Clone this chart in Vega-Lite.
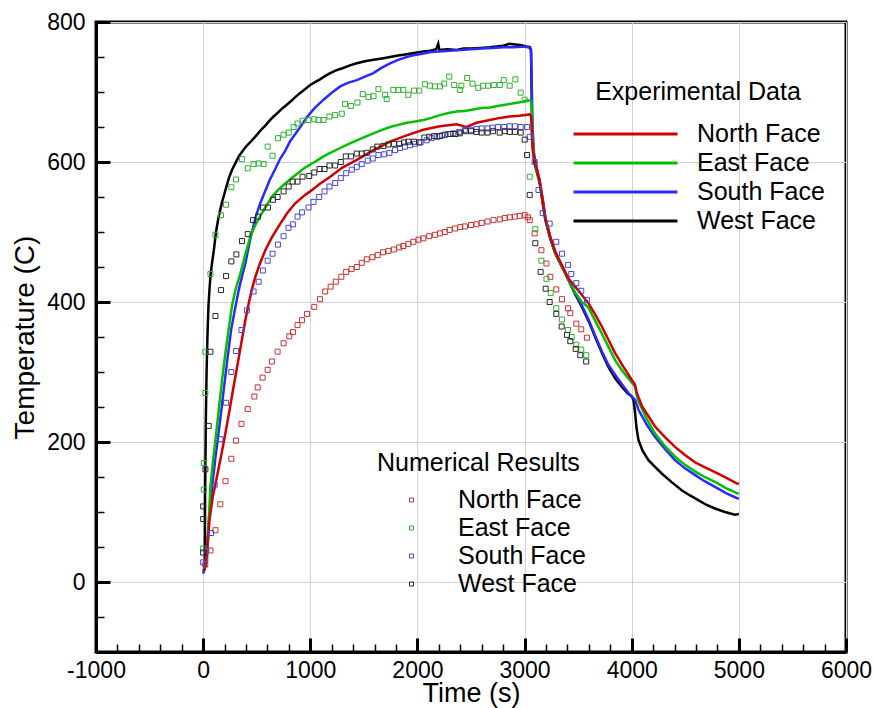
{
"$schema": "https://vega.github.io/schema/vega-lite/v6.json",
"width": 750, "height": 630,
"autosize": {"type": "none"},
"padding": {"left": 96, "top": 22, "right": 29, "bottom": 56},
"background": "white",
"config": {"view": {"stroke": "black", "strokeWidth": 3}, "font": "Liberation Sans"},
"datasets": {
"exp": [
{"face":"West Face","t":0,"temp":15},{"face":"West Face","t":10,"temp":17},{"face":"West Face","t":15,"temp":20},{"face":"West Face","t":18,"temp":120},{"face":"West Face","t":22,"temp":180},{"face":"West Face","t":25,"temp":230},{"face":"West Face","t":32,"temp":300},{"face":"West Face","t":40,"temp":350},{"face":"West Face","t":50,"temp":395},{"face":"West Face","t":60,"temp":420},{"face":"West Face","t":70,"temp":440},{"face":"West Face","t":85,"temp":458},{"face":"West Face","t":100,"temp":474},{"face":"West Face","t":120,"temp":500},{"face":"West Face","t":145,"temp":522},{"face":"West Face","t":175,"temp":542},{"face":"West Face","t":208,"temp":560},{"face":"West Face","t":240,"temp":577},{"face":"West Face","t":270,"temp":589},{"face":"West Face","t":300,"temp":598},{"face":"West Face","t":332,"temp":608},{"face":"West Face","t":365,"temp":615},{"face":"West Face","t":400,"temp":622},{"face":"West Face","t":450,"temp":630},{"face":"West Face","t":503,"temp":639},{"face":"West Face","t":540,"temp":646},{"face":"West Face","t":580,"temp":652},{"face":"West Face","t":620,"temp":659},{"face":"West Face","t":658,"temp":665},{"face":"West Face","t":700,"temp":671},{"face":"West Face","t":735,"temp":676},{"face":"West Face","t":775,"temp":681},{"face":"West Face","t":813,"temp":686},{"face":"West Face","t":855,"temp":692},{"face":"West Face","t":900,"temp":698},{"face":"West Face","t":950,"temp":704},{"face":"West Face","t":999,"temp":710},{"face":"West Face","t":1045,"temp":714},{"face":"West Face","t":1090,"temp":718},{"face":"West Face","t":1140,"temp":723},{"face":"West Face","t":1186,"temp":727},{"face":"West Face","t":1240,"temp":731},{"face":"West Face","t":1300,"temp":734},{"face":"West Face","t":1370,"temp":738},{"face":"West Face","t":1434,"temp":741},{"face":"West Face","t":1510,"temp":744},{"face":"West Face","t":1590,"temp":746},{"face":"West Face","t":1670,"temp":748},{"face":"West Face","t":1744,"temp":750},{"face":"West Face","t":1820,"temp":752},{"face":"West Face","t":1900,"temp":754},{"face":"West Face","t":1980,"temp":756},{"face":"West Face","t":2055,"temp":758},{"face":"West Face","t":2120,"temp":759},{"face":"West Face","t":2175,"temp":761},{"face":"West Face","t":2194,"temp":769},{"face":"West Face","t":2205,"temp":760},{"face":"West Face","t":2280,"temp":761},{"face":"West Face","t":2365,"temp":760},{"face":"West Face","t":2430,"temp":762},{"face":"West Face","t":2500,"temp":762},{"face":"West Face","t":2590,"temp":763},{"face":"West Face","t":2675,"temp":764},{"face":"West Face","t":2740,"temp":765},{"face":"West Face","t":2800,"temp":766},{"face":"West Face","t":2861,"temp":769},{"face":"West Face","t":2910,"temp":768},{"face":"West Face","t":2960,"temp":767},{"face":"West Face","t":3017,"temp":765},{"face":"West Face","t":3050,"temp":764},{"face":"West Face","t":3060,"temp":760},{"face":"West Face","t":3066,"temp":700},{"face":"West Face","t":3072,"temp":630},{"face":"West Face","t":3090,"temp":600},{"face":"West Face","t":3115,"temp":585},{"face":"West Face","t":3141,"temp":570},{"face":"West Face","t":3170,"temp":540},{"face":"West Face","t":3194,"temp":517},{"face":"West Face","t":3240,"temp":490},{"face":"West Face","t":3287,"temp":469},{"face":"West Face","t":3350,"temp":450},{"face":"West Face","t":3411,"temp":431},{"face":"West Face","t":3470,"temp":412},{"face":"West Face","t":3535,"temp":393},{"face":"West Face","t":3600,"temp":372},{"face":"West Face","t":3659,"temp":350},{"face":"West Face","t":3720,"temp":328},{"face":"West Face","t":3783,"temp":307},{"face":"West Face","t":3850,"temp":290},{"face":"West Face","t":3907,"temp":279},{"face":"West Face","t":3960,"temp":270},{"face":"West Face","t":4000,"temp":265},{"face":"West Face","t":4016,"temp":260},{"face":"West Face","t":4025,"temp":250},{"face":"West Face","t":4032,"temp":241},{"face":"West Face","t":4045,"temp":220},{"face":"West Face","t":4063,"temp":203},{"face":"West Face","t":4100,"temp":188},{"face":"West Face","t":4156,"temp":174},{"face":"West Face","t":4220,"temp":164},{"face":"West Face","t":4280,"temp":155},{"face":"West Face","t":4370,"temp":143},{"face":"West Face","t":4466,"temp":131},{"face":"West Face","t":4540,"temp":124},{"face":"West Face","t":4621,"temp":117},{"face":"West Face","t":4700,"temp":110},{"face":"West Face","t":4777,"temp":105},{"face":"West Face","t":4870,"temp":100},{"face":"West Face","t":4963,"temp":96},{"face":"West Face","t":5000,"temp":97},
{"face":"South Face","t":0,"temp":12},{"face":"South Face","t":6,"temp":15},{"face":"South Face","t":20,"temp":30},{"face":"South Face","t":40,"temp":60},{"face":"South Face","t":60,"temp":100},{"face":"South Face","t":84,"temp":136},{"face":"South Face","t":115,"temp":178},{"face":"South Face","t":145,"temp":214},{"face":"South Face","t":175,"temp":252},{"face":"South Face","t":201,"temp":286},{"face":"South Face","t":230,"temp":323},{"face":"South Face","t":263,"temp":362},{"face":"South Face","t":300,"temp":392},{"face":"South Face","t":332,"temp":417},{"face":"South Face","t":365,"temp":438},{"face":"South Face","t":394,"temp":455},{"face":"South Face","t":440,"temp":490},{"face":"South Face","t":487,"temp":520},{"face":"South Face","t":530,"temp":540},{"face":"South Face","t":570,"temp":555},{"face":"South Face","t":620,"temp":574},{"face":"South Face","t":673,"temp":590},{"face":"South Face","t":720,"temp":605},{"face":"South Face","t":766,"temp":616},{"face":"South Face","t":813,"temp":630},{"face":"South Face","t":860,"temp":640},{"face":"South Face","t":906,"temp":650},{"face":"South Face","t":968,"temp":664},{"face":"South Face","t":1040,"temp":677},{"face":"South Face","t":1124,"temp":689},{"face":"South Face","t":1200,"temp":699},{"face":"South Face","t":1279,"temp":708},{"face":"South Face","t":1350,"temp":713},{"face":"South Face","t":1434,"temp":717},{"face":"South Face","t":1510,"temp":722},{"face":"South Face","t":1589,"temp":727},{"face":"South Face","t":1660,"temp":734},{"face":"South Face","t":1744,"temp":741},{"face":"South Face","t":1820,"temp":746},{"face":"South Face","t":1900,"temp":750},{"face":"South Face","t":1980,"temp":753},{"face":"South Face","t":2055,"temp":755},{"face":"South Face","t":2130,"temp":757},{"face":"South Face","t":2200,"temp":758},{"face":"South Face","t":2300,"temp":759},{"face":"South Face","t":2400,"temp":760},{"face":"South Face","t":2500,"temp":761},{"face":"South Face","t":2600,"temp":762},{"face":"South Face","t":2700,"temp":763},{"face":"South Face","t":2800,"temp":764},{"face":"South Face","t":2900,"temp":764},{"face":"South Face","t":3000,"temp":765},{"face":"South Face","t":3050,"temp":763},{"face":"South Face","t":3060,"temp":758},{"face":"South Face","t":3066,"temp":720},{"face":"South Face","t":3074,"temp":650},{"face":"South Face","t":3090,"temp":610},{"face":"South Face","t":3115,"temp":590},{"face":"South Face","t":3141,"temp":574},{"face":"South Face","t":3170,"temp":545},{"face":"South Face","t":3194,"temp":520},{"face":"South Face","t":3240,"temp":492},{"face":"South Face","t":3287,"temp":470},{"face":"South Face","t":3350,"temp":450},{"face":"South Face","t":3411,"temp":431},{"face":"South Face","t":3470,"temp":413},{"face":"South Face","t":3535,"temp":395},{"face":"South Face","t":3600,"temp":374},{"face":"South Face","t":3659,"temp":352},{"face":"South Face","t":3720,"temp":330},{"face":"South Face","t":3783,"temp":310},{"face":"South Face","t":3850,"temp":295},{"face":"South Face","t":3907,"temp":283},{"face":"South Face","t":3970,"temp":270},{"face":"South Face","t":4032,"temp":260},{"face":"South Face","t":4063,"temp":246},{"face":"South Face","t":4140,"temp":225},{"face":"South Face","t":4218,"temp":207},{"face":"South Face","t":4310,"temp":190},{"face":"South Face","t":4404,"temp":174},{"face":"South Face","t":4500,"temp":162},{"face":"South Face","t":4590,"temp":153},{"face":"South Face","t":4680,"temp":144},{"face":"South Face","t":4777,"temp":136},{"face":"South Face","t":4880,"temp":127},{"face":"South Face","t":4979,"temp":120},{"face":"South Face","t":5000,"temp":119},
{"face":"East Face","t":5,"temp":17},{"face":"East Face","t":20,"temp":22},{"face":"East Face","t":37,"temp":30},{"face":"East Face","t":50,"temp":80},{"face":"East Face","t":68,"temp":136},{"face":"East Face","t":90,"temp":170},{"face":"East Face","t":115,"temp":203},{"face":"East Face","t":145,"temp":245},{"face":"East Face","t":177,"temp":289},{"face":"East Face","t":210,"temp":330},{"face":"East Face","t":239,"temp":362},{"face":"East Face","t":270,"temp":395},{"face":"East Face","t":301,"temp":417},{"face":"East Face","t":348,"temp":441},{"face":"East Face","t":394,"temp":468},{"face":"East Face","t":441,"temp":494},{"face":"East Face","t":487,"temp":510},{"face":"East Face","t":530,"temp":522},{"face":"East Face","t":580,"temp":535},{"face":"East Face","t":640,"temp":550},{"face":"East Face","t":704,"temp":561},{"face":"East Face","t":780,"temp":571},{"face":"East Face","t":859,"temp":581},{"face":"East Face","t":952,"temp":592},{"face":"East Face","t":1040,"temp":600},{"face":"East Face","t":1124,"temp":608},{"face":"East Face","t":1200,"temp":614},{"face":"East Face","t":1280,"temp":620},{"face":"East Face","t":1360,"temp":626},{"face":"East Face","t":1434,"temp":631},{"face":"East Face","t":1510,"temp":636},{"face":"East Face","t":1590,"temp":641},{"face":"East Face","t":1670,"temp":646},{"face":"East Face","t":1744,"temp":650},{"face":"East Face","t":1820,"temp":653},{"face":"East Face","t":1900,"temp":656},{"face":"East Face","t":1980,"temp":658},{"face":"East Face","t":2055,"temp":660},{"face":"East Face","t":2130,"temp":663},{"face":"East Face","t":2210,"temp":667},{"face":"East Face","t":2290,"temp":670},{"face":"East Face","t":2365,"temp":672},{"face":"East Face","t":2440,"temp":673},{"face":"East Face","t":2520,"temp":675},{"face":"East Face","t":2600,"temp":677},{"face":"East Face","t":2675,"temp":678},{"face":"East Face","t":2750,"temp":680},{"face":"East Face","t":2830,"temp":682},{"face":"East Face","t":2900,"temp":684},{"face":"East Face","t":2986,"temp":686},{"face":"East Face","t":3030,"temp":688},{"face":"East Face","t":3060,"temp":687},{"face":"East Face","t":3066,"temp":680},{"face":"East Face","t":3072,"temp":640},{"face":"East Face","t":3090,"temp":605},{"face":"East Face","t":3115,"temp":588},{"face":"East Face","t":3141,"temp":572},{"face":"East Face","t":3170,"temp":545},{"face":"East Face","t":3194,"temp":520},{"face":"East Face","t":3240,"temp":492},{"face":"East Face","t":3287,"temp":470},{"face":"East Face","t":3350,"temp":450},{"face":"East Face","t":3411,"temp":432},{"face":"East Face","t":3470,"temp":414},{"face":"East Face","t":3535,"temp":400},{"face":"East Face","t":3597,"temp":392},{"face":"East Face","t":3660,"temp":373},{"face":"East Face","t":3721,"temp":355},{"face":"East Face","t":3783,"temp":336},{"face":"East Face","t":3845,"temp":317},{"face":"East Face","t":3920,"temp":300},{"face":"East Face","t":4000,"temp":285},{"face":"East Face","t":4032,"temp":279},{"face":"East Face","t":4045,"temp":268},{"face":"East Face","t":4063,"temp":258},{"face":"East Face","t":4140,"temp":233},{"face":"East Face","t":4218,"temp":212},{"face":"East Face","t":4310,"temp":194},{"face":"East Face","t":4404,"temp":179},{"face":"East Face","t":4500,"temp":167},{"face":"East Face","t":4590,"temp":158},{"face":"East Face","t":4680,"temp":150},{"face":"East Face","t":4777,"temp":143},{"face":"East Face","t":4880,"temp":134},{"face":"East Face","t":4979,"temp":127},{"face":"East Face","t":5000,"temp":126},
{"face":"North Face","t":5,"temp":17},{"face":"North Face","t":21,"temp":22},{"face":"North Face","t":40,"temp":50},{"face":"North Face","t":60,"temp":90},{"face":"North Face","t":90,"temp":122},{"face":"North Face","t":115,"temp":140},{"face":"North Face","t":145,"temp":163},{"face":"North Face","t":190,"temp":198},{"face":"North Face","t":239,"temp":239},{"face":"North Face","t":285,"temp":280},{"face":"North Face","t":332,"temp":320},{"face":"North Face","t":366,"temp":350},{"face":"North Face","t":394,"temp":374},{"face":"North Face","t":425,"temp":398},{"face":"North Face","t":455,"temp":418},{"face":"North Face","t":487,"temp":436},{"face":"North Face","t":530,"temp":455},{"face":"North Face","t":580,"temp":474},{"face":"North Face","t":640,"temp":492},{"face":"North Face","t":704,"temp":508},{"face":"North Face","t":780,"temp":526},{"face":"North Face","t":859,"temp":541},{"face":"North Face","t":952,"temp":553},{"face":"North Face","t":999,"temp":558},{"face":"North Face","t":1090,"temp":569},{"face":"North Face","t":1186,"temp":579},{"face":"North Face","t":1300,"temp":592},{"face":"North Face","t":1434,"temp":603},{"face":"North Face","t":1590,"temp":617},{"face":"North Face","t":1744,"temp":629},{"face":"North Face","t":1900,"temp":638},{"face":"North Face","t":2055,"temp":646},{"face":"North Face","t":2210,"temp":651},{"face":"North Face","t":2365,"temp":654},{"face":"North Face","t":2410,"temp":652},{"face":"North Face","t":2458,"temp":650},{"face":"North Face","t":2550,"temp":656},{"face":"North Face","t":2675,"temp":660},{"face":"North Face","t":2770,"temp":663},{"face":"North Face","t":2861,"temp":665},{"face":"North Face","t":2950,"temp":666},{"face":"North Face","t":3048,"temp":668},{"face":"North Face","t":3062,"temp":665},{"face":"North Face","t":3068,"temp":640},{"face":"North Face","t":3078,"temp":615},{"face":"North Face","t":3100,"temp":600},{"face":"North Face","t":3141,"temp":572},{"face":"North Face","t":3170,"temp":545},{"face":"North Face","t":3194,"temp":520},{"face":"North Face","t":3240,"temp":493},{"face":"North Face","t":3287,"temp":472},{"face":"North Face","t":3350,"temp":452},{"face":"North Face","t":3411,"temp":433},{"face":"North Face","t":3473,"temp":422},{"face":"North Face","t":3535,"temp":410},{"face":"North Face","t":3597,"temp":398},{"face":"North Face","t":3660,"temp":382},{"face":"North Face","t":3721,"temp":365},{"face":"North Face","t":3783,"temp":346},{"face":"North Face","t":3845,"temp":327},{"face":"North Face","t":3920,"temp":308},{"face":"North Face","t":4000,"temp":289},{"face":"North Face","t":4030,"temp":282},{"face":"North Face","t":4047,"temp":270},{"face":"North Face","t":4100,"temp":250},{"face":"North Face","t":4160,"temp":236},{"face":"North Face","t":4218,"temp":222},{"face":"North Face","t":4310,"temp":207},{"face":"North Face","t":4404,"temp":193},{"face":"North Face","t":4500,"temp":181},{"face":"North Face","t":4590,"temp":171},{"face":"North Face","t":4680,"temp":164},{"face":"North Face","t":4777,"temp":157},{"face":"North Face","t":4880,"temp":149},{"face":"North Face","t":4979,"temp":141},{"face":"North Face","t":5000,"temp":140}
],
"num": [
{"face":"North Face","t":20,"temp":25},{"face":"North Face","t":68,"temp":45},{"face":"North Face","t":115,"temp":74},{"face":"North Face","t":161,"temp":111},{"face":"North Face","t":208,"temp":144},{"face":"North Face","t":263,"temp":176},{"face":"North Face","t":307,"temp":202},{"face":"North Face","t":357,"temp":226},{"face":"North Face","t":416,"temp":247},{"face":"North Face","t":478,"temp":265},{"face":"North Face","t":509,"temp":278},{"face":"North Face","t":555,"temp":292},{"face":"North Face","t":602,"temp":303},{"face":"North Face","t":642,"temp":315},{"face":"North Face","t":695,"temp":329},{"face":"North Face","t":751,"temp":341},{"face":"North Face","t":804,"temp":351},{"face":"North Face","t":838,"temp":357},{"face":"North Face","t":881,"temp":367},{"face":"North Face","t":922,"temp":374},{"face":"North Face","t":970,"temp":383},{"face":"North Face","t":1037,"temp":393},{"face":"North Face","t":1090,"temp":404},{"face":"North Face","t":1139,"temp":415},{"face":"North Face","t":1190,"temp":422},{"face":"North Face","t":1238,"temp":429},{"face":"North Face","t":1290,"temp":436},{"face":"North Face","t":1335,"temp":443},{"face":"North Face","t":1385,"temp":447},{"face":"North Face","t":1434,"temp":450},{"face":"North Face","t":1480,"temp":456},{"face":"North Face","t":1527,"temp":461},{"face":"North Face","t":1580,"temp":464},{"face":"North Face","t":1629,"temp":467},{"face":"North Face","t":1680,"temp":471},{"face":"North Face","t":1730,"temp":473},{"face":"North Face","t":1780,"temp":475},{"face":"North Face","t":1830,"temp":478},{"face":"North Face","t":1868,"temp":480},{"face":"North Face","t":1915,"temp":483},{"face":"North Face","t":1962,"temp":486},{"face":"North Face","t":2010,"temp":489},{"face":"North Face","t":2055,"temp":491},{"face":"North Face","t":2110,"temp":494},{"face":"North Face","t":2163,"temp":496},{"face":"North Face","t":2210,"temp":498},{"face":"North Face","t":2256,"temp":500},{"face":"North Face","t":2300,"temp":503},{"face":"North Face","t":2350,"temp":505},{"face":"North Face","t":2400,"temp":507},{"face":"North Face","t":2443,"temp":508},{"face":"North Face","t":2500,"temp":510},{"face":"North Face","t":2551,"temp":511},{"face":"North Face","t":2600,"temp":513},{"face":"North Face","t":2654,"temp":515},{"face":"North Face","t":2710,"temp":517},{"face":"North Face","t":2768,"temp":518},{"face":"North Face","t":2815,"temp":520},{"face":"North Face","t":2861,"temp":521},{"face":"North Face","t":2910,"temp":522},{"face":"North Face","t":2955,"temp":523},{"face":"North Face","t":3001,"temp":524},{"face":"North Face","t":3030,"temp":521},{"face":"North Face","t":3048,"temp":517},{"face":"North Face","t":3094,"temp":498},{"face":"North Face","t":3157,"temp":474},{"face":"North Face","t":3204,"temp":455},{"face":"North Face","t":3241,"temp":436},{"face":"North Face","t":3296,"temp":418},{"face":"North Face","t":3349,"temp":404},{"face":"North Face","t":3405,"temp":391},{"face":"North Face","t":3427,"temp":384},{"face":"North Face","t":3483,"temp":369},{"face":"North Face","t":3529,"temp":361},{"face":"North Face","t":3582,"temp":349},
{"face":"East Face","t":0,"temp":48},{"face":"East Face","t":6,"temp":132},{"face":"East Face","t":6,"temp":170},{"face":"East Face","t":21,"temp":270},{"face":"East Face","t":21,"temp":329},{"face":"East Face","t":68,"temp":440},{"face":"East Face","t":115,"temp":496},{"face":"East Face","t":167,"temp":524},{"face":"East Face","t":214,"temp":539},{"face":"East Face","t":263,"temp":564},{"face":"East Face","t":307,"temp":575},{"face":"East Face","t":363,"temp":604},{"face":"East Face","t":416,"temp":591},{"face":"East Face","t":471,"temp":597},{"face":"East Face","t":518,"temp":598},{"face":"East Face","t":565,"temp":597},{"face":"East Face","t":602,"temp":622},{"face":"East Face","t":648,"temp":609},{"face":"East Face","t":698,"temp":634},{"face":"East Face","t":751,"temp":639},{"face":"East Face","t":798,"temp":642},{"face":"East Face","t":844,"temp":650},{"face":"East Face","t":881,"temp":655},{"face":"East Face","t":928,"temp":659},{"face":"East Face","t":984,"temp":660},{"face":"East Face","t":1037,"temp":661},{"face":"East Face","t":1077,"temp":660},{"face":"East Face","t":1124,"temp":660},{"face":"East Face","t":1179,"temp":665},{"face":"East Face","t":1232,"temp":667},{"face":"East Face","t":1294,"temp":669},{"face":"East Face","t":1325,"temp":683},{"face":"East Face","t":1378,"temp":680},{"face":"East Face","t":1440,"temp":685},{"face":"East Face","t":1490,"temp":697},{"face":"East Face","t":1543,"temp":693},{"face":"East Face","t":1590,"temp":694},{"face":"East Face","t":1636,"temp":704},{"face":"East Face","t":1698,"temp":696},{"face":"East Face","t":1713,"temp":690},{"face":"East Face","t":1775,"temp":703},{"face":"East Face","t":1822,"temp":703},{"face":"East Face","t":1868,"temp":703},{"face":"East Face","t":1915,"temp":696},{"face":"East Face","t":1968,"temp":702},{"face":"East Face","t":2017,"temp":702},{"face":"East Face","t":2070,"temp":711},{"face":"East Face","t":2117,"temp":709},{"face":"East Face","t":2163,"temp":708},{"face":"East Face","t":2210,"temp":708},{"face":"East Face","t":2250,"temp":712},{"face":"East Face","t":2297,"temp":722},{"face":"East Face","t":2343,"temp":710},{"face":"East Face","t":2396,"temp":703},{"face":"East Face","t":2410,"temp":709},{"face":"East Face","t":2464,"temp":720},{"face":"East Face","t":2514,"temp":712},{"face":"East Face","t":2567,"temp":706},{"face":"East Face","t":2613,"temp":709},{"face":"East Face","t":2660,"temp":709},{"face":"East Face","t":2713,"temp":710},{"face":"East Face","t":2768,"temp":710},{"face":"East Face","t":2806,"temp":717},{"face":"East Face","t":2861,"temp":709},{"face":"East Face","t":2914,"temp":718},{"face":"East Face","t":2964,"temp":699},{"face":"East Face","t":3001,"temp":689},{"face":"East Face","t":3048,"temp":579},{"face":"East Face","t":3100,"temp":504},{"face":"East Face","t":3157,"temp":459},{"face":"East Face","t":3204,"temp":433},{"face":"East Face","t":3244,"temp":413},{"face":"East Face","t":3296,"temp":391},{"face":"East Face","t":3349,"temp":375},{"face":"East Face","t":3405,"temp":360},{"face":"East Face","t":3440,"temp":350},{"face":"East Face","t":3483,"temp":339},{"face":"East Face","t":3529,"temp":332},{"face":"East Face","t":3575,"temp":324},
{"face":"South Face","t":0,"temp":28},{"face":"South Face","t":30,"temp":45},{"face":"South Face","t":74,"temp":70},{"face":"South Face","t":108,"temp":139},{"face":"South Face","t":161,"temp":204},{"face":"South Face","t":214,"temp":256},{"face":"South Face","t":263,"temp":300},{"face":"South Face","t":307,"temp":330},{"face":"South Face","t":357,"temp":360},{"face":"South Face","t":409,"temp":388},{"face":"South Face","t":471,"temp":415},{"face":"South Face","t":518,"temp":429},{"face":"South Face","t":558,"temp":445},{"face":"South Face","t":602,"temp":459},{"face":"South Face","t":648,"temp":469},{"face":"South Face","t":698,"temp":482},{"face":"South Face","t":751,"temp":494},{"face":"South Face","t":797,"temp":506},{"face":"South Face","t":838,"temp":511},{"face":"South Face","t":881,"temp":522},{"face":"South Face","t":922,"temp":528},{"face":"South Face","t":984,"temp":535},{"face":"South Face","t":1030,"temp":543},{"face":"South Face","t":1083,"temp":550},{"face":"South Face","t":1133,"temp":558},{"face":"South Face","t":1179,"temp":565},{"face":"South Face","t":1232,"temp":570},{"face":"South Face","t":1285,"temp":577},{"face":"South Face","t":1335,"temp":584},{"face":"South Face","t":1387,"temp":589},{"face":"South Face","t":1434,"temp":593},{"face":"South Face","t":1480,"temp":597},{"face":"South Face","t":1536,"temp":602},{"face":"South Face","t":1583,"temp":605},{"face":"South Face","t":1636,"temp":610},{"face":"South Face","t":1690,"temp":611},{"face":"South Face","t":1738,"temp":613},{"face":"South Face","t":1791,"temp":617},{"face":"South Face","t":1837,"temp":620},{"face":"South Face","t":1884,"temp":622},{"face":"South Face","t":1930,"temp":624},{"face":"South Face","t":1977,"temp":626},{"face":"South Face","t":2030,"temp":628},{"face":"South Face","t":2086,"temp":631},{"face":"South Face","t":2132,"temp":634},{"face":"South Face","t":2185,"temp":636},{"face":"South Face","t":2230,"temp":638},{"face":"South Face","t":2287,"temp":640},{"face":"South Face","t":2334,"temp":641},{"face":"South Face","t":2390,"temp":643},{"face":"South Face","t":2443,"temp":646},{"face":"South Face","t":2500,"temp":646},{"face":"South Face","t":2551,"temp":647},{"face":"South Face","t":2600,"temp":648},{"face":"South Face","t":2654,"temp":648},{"face":"South Face","t":2700,"temp":649},{"face":"South Face","t":2753,"temp":650},{"face":"South Face","t":2810,"temp":650},{"face":"South Face","t":2861,"temp":651},{"face":"South Face","t":2910,"temp":651},{"face":"South Face","t":2964,"temp":650},{"face":"South Face","t":3023,"temp":650},{"face":"South Face","t":3048,"temp":636},{"face":"South Face","t":3094,"temp":600},{"face":"South Face","t":3130,"temp":560},{"face":"South Face","t":3169,"temp":527},{"face":"South Face","t":3234,"temp":512},{"face":"South Face","t":3296,"temp":486},{"face":"South Face","t":3349,"temp":469},{"face":"South Face","t":3405,"temp":453},{"face":"South Face","t":3436,"temp":440},{"face":"South Face","t":3483,"temp":427},{"face":"South Face","t":3529,"temp":416},{"face":"South Face","t":3582,"temp":403},
{"face":"West Face","t":0,"temp":42},{"face":"West Face","t":0,"temp":90},{"face":"West Face","t":0,"temp":108},{"face":"West Face","t":21,"temp":161},{"face":"West Face","t":52,"temp":223},{"face":"West Face","t":68,"temp":329},{"face":"West Face","t":115,"temp":380},{"face":"West Face","t":167,"temp":417},{"face":"West Face","t":214,"temp":437},{"face":"West Face","t":263,"temp":458},{"face":"West Face","t":310,"temp":468},{"face":"West Face","t":363,"temp":487},{"face":"West Face","t":416,"temp":497},{"face":"West Face","t":466,"temp":517},{"face":"West Face","t":512,"temp":522},{"face":"West Face","t":559,"temp":535},{"face":"West Face","t":605,"temp":535},{"face":"West Face","t":652,"temp":546},{"face":"West Face","t":695,"temp":550},{"face":"West Face","t":751,"temp":558},{"face":"West Face","t":798,"temp":565},{"face":"West Face","t":835,"temp":572},{"face":"West Face","t":881,"temp":572},{"face":"West Face","t":928,"temp":579},{"face":"West Face","t":990,"temp":580},{"face":"West Face","t":1037,"temp":585},{"face":"West Face","t":1086,"temp":590},{"face":"West Face","t":1133,"temp":590},{"face":"West Face","t":1179,"temp":595},{"face":"West Face","t":1232,"temp":595},{"face":"West Face","t":1285,"temp":600},{"face":"West Face","t":1331,"temp":608},{"face":"West Face","t":1381,"temp":608},{"face":"West Face","t":1434,"temp":612},{"face":"West Face","t":1480,"temp":612},{"face":"West Face","t":1527,"temp":613},{"face":"West Face","t":1583,"temp":618},{"face":"West Face","t":1626,"temp":622},{"face":"West Face","t":1682,"temp":623},{"face":"West Face","t":1729,"temp":625},{"face":"West Face","t":1780,"temp":626},{"face":"West Face","t":1831,"temp":626},{"face":"West Face","t":1875,"temp":628},{"face":"West Face","t":1915,"temp":629},{"face":"West Face","t":1968,"temp":629},{"face":"West Face","t":2017,"temp":628},{"face":"West Face","t":2064,"temp":635},{"face":"West Face","t":2110,"temp":636},{"face":"West Face","t":2157,"temp":637},{"face":"West Face","t":2210,"temp":637},{"face":"West Face","t":2256,"temp":639},{"face":"West Face","t":2309,"temp":640},{"face":"West Face","t":2356,"temp":640},{"face":"West Face","t":2396,"temp":641},{"face":"West Face","t":2452,"temp":644},{"face":"West Face","t":2500,"temp":644},{"face":"West Face","t":2551,"temp":643},{"face":"West Face","t":2600,"temp":642},{"face":"West Face","t":2654,"temp":642},{"face":"West Face","t":2706,"temp":644},{"face":"West Face","t":2768,"temp":642},{"face":"West Face","t":2815,"temp":644},{"face":"West Face","t":2861,"temp":643},{"face":"West Face","t":2910,"temp":643},{"face":"West Face","t":2964,"temp":642},{"face":"West Face","t":3001,"temp":632},{"face":"West Face","t":3023,"temp":610},{"face":"West Face","t":3048,"temp":553},{"face":"West Face","t":3100,"temp":484},{"face":"West Face","t":3150,"temp":443},{"face":"West Face","t":3197,"temp":419},{"face":"West Face","t":3234,"temp":400},{"face":"West Face","t":3296,"temp":383},{"face":"West Face","t":3346,"temp":365},{"face":"West Face","t":3396,"temp":353},{"face":"West Face","t":3427,"temp":344},{"face":"West Face","t":3477,"temp":333},{"face":"West Face","t":3520,"temp":324},{"face":"West Face","t":3575,"temp":315}
]
},
"encoding": {
"x": {"field": "t", "type": "quantitative", "title": "Time (s)",
 "scale": {"domain": [-1000, 6000], "nice": false, "zero": false},
 "axis": {"values": [-1000,-800,-600,-400,-200,0,200,400,600,800,1000,1200,1400,1600,1800,2000,2200,2400,2600,2800,3000,3200,3400,3600,3800,4000,4200,4400,4600,4800,5000,5200,5400,5600,5800,6000],
  "labelExpr": "datum.value % 1000 === 0 ? '' + datum.value : ''",
  "tickSize": {"condition": {"test": "datum.value % 1000 === 0", "value": -14}, "value": -8},
  "tickWidth": {"condition": {"test": "datum.value % 1000 === 0", "value": 3}, "value": 1.5},
  "gridOpacity": {"condition": {"test": "datum.value % 1000 === 0", "value": 1}, "value": 0},
  "grid": true, "gridColor": "#d2d2d2", "gridWidth": 1,
  "tickColor": "black", "domainColor": "black", "domainWidth": 3,
  "labelFont": "Liberation Sans", "labelFontSize": 23, "labelColor": "black", "labelPadding": 21, "labelFlush": false, "labelOverlap": false,
  "titleFont": "Liberation Sans", "titleFontSize": 27, "titleFontWeight": "normal", "titleColor": "black", "titlePadding": -8}},
"y": {"field": "temp", "type": "quantitative", "title": "Temperature (C)",
 "scale": {"domain": [-100, 800], "nice": false, "zero": false},
 "axis": {"values": [-100,-50,0,50,100,150,200,250,300,350,400,450,500,550,600,650,700,750,800],
  "labelExpr": "datum.value % 200 === 0 ? '' + datum.value : ''",
  "tickSize": {"condition": {"test": "datum.value % 200 === 0", "value": -14}, "value": -8},
  "tickWidth": {"condition": {"test": "datum.value % 200 === 0", "value": 3}, "value": 1.5},
  "gridOpacity": {"condition": {"test": "datum.value % 200 === 0", "value": 1}, "value": 0},
  "grid": true, "gridColor": "#d2d2d2", "gridWidth": 1,
  "tickColor": "black", "domainColor": "black", "domainWidth": 3,
  "labelFont": "Liberation Sans", "labelFontSize": 23, "labelColor": "black", "labelPadding": 25, "labelFlush": false, "labelOverlap": false,
  "titleFont": "Liberation Sans", "titleFontSize": 28, "titleFontWeight": "normal", "titleColor": "black", "titlePadding": 7}}
},
"layer": [
{"data": {"name": "exp"},
 "mark": {"type": "line", "strokeWidth": 2.5, "clip": true},
 "encoding": {
  "stroke": {"field": "face", "type": "nominal",
   "scale": {"domain": ["North Face","East Face","South Face","West Face"], "range": ["#d20000","#00c000","#2a2aff","#000000"]},
   "legend": {"orient": "none", "legendX": 476, "legendY": 58, "title": "Experimental Data", "titleAnchor": "middle", "titleLimit": 400,
    "titleFont": "Liberation Sans", "titleFontSize": 25, "titleFontWeight": "normal", "titleColor": "black", "titlePadding": 16,
    "symbolType": "stroke", "symbolSize": 10816, "symbolStrokeWidth": 3, "clipHeight": 26, "rowPadding": 3,
    "labelFont": "Liberation Sans", "labelFontSize": 25, "labelColor": "black", "labelOffset": 18, "labelLimit": 300, "padding": 0}},
  "strokeWidth": {"condition": {"test": "datum.face === 'West Face'", "value": 3}, "value": 2.3}
 }},
{"data": {"name": "num"},
 "mark": {"type": "point", "shape": "square", "filled": false, "size": 25, "strokeWidth": 1, "opacity": 1},
 "encoding": {
  "stroke": {"field": "face", "type": "nominal",
   "scale": {"domain": ["North Face","East Face","South Face","West Face"], "range": ["#c83232","#30b030","#4848d8","#282828"]},
   "legend": {"orient": "none", "legendX": 281, "legendY": 429, "title": "Numerical Results", "titleAnchor": "start", "titleLimit": 400,
    "titleFont": "Liberation Sans", "titleFontSize": 25, "titleFontWeight": "normal", "titleColor": "black", "titlePadding": 11,
    "symbolType": "square", "symbolSize": 16, "symbolStrokeWidth": 1, "symbolOffset": 22, "clipHeight": 26, "rowPadding": 2,
    "labelFont": "Liberation Sans", "labelFontSize": 25, "labelColor": "black", "labelOffset": 34, "labelLimit": 300, "padding": 0}}
 }}
],
"resolve": {"scale": {"stroke": "independent"}}
}
